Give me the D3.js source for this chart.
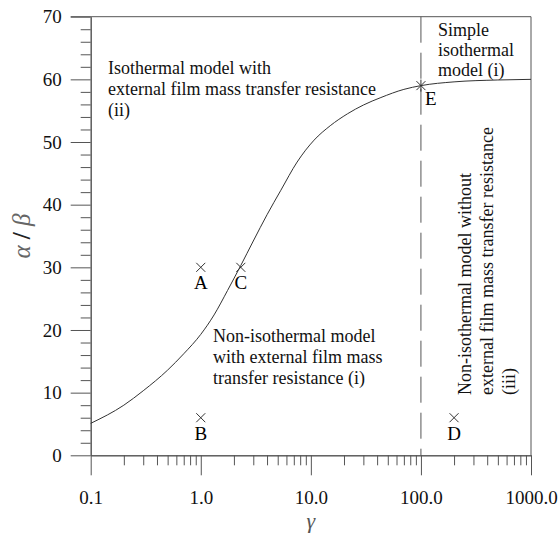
<!DOCTYPE html>
<html>
<head>
<meta charset="utf-8">
<script src="https://cdn.jsdelivr.net/npm/d3@7"></script>
<style>
  html, body { margin: 0; padding: 0; background: #fff; }
  svg { display: block; }
  text { font-family: "Liberation Serif", "Times New Roman", serif; }
</style>
</head>
<body>
<svg id="chart" width="560" height="533"></svg>
<script>
// ---- data ----
const curveGamma = [0.1, 0.2, 0.3, 0.5, 0.7, 1.0, 1.32, 1.75, 2.31, 3.0, 4.0, 5.34, 7.5, 10.7, 15, 21.5, 30, 43.3, 70, 100, 200, 500, 1000];
const curveRatio = [5.1, 8.0, 10.3, 13.6, 16.2, 19.3, 22.4, 26.3, 30.3, 34.2, 38.4, 42.3, 46.8, 50.3, 52.6, 54.5, 55.9, 57.1, 58.4, 59.0, 59.6, 59.9, 60.0];
const pointNames = ["A", "B", "C", "D", "E"];
const pointGamma = [1, 1, 2.31, 200, 100];
const pointRatio = [30, 6, 30, 6, 59];
const boundaryGamma = 100;
const xMajorTicks = [0.1, 1, 10, 100, 1000];
const xTickLabels = ["0.1", "1.0", "10.0", "100.0", "1000.0"];
const yMajorTicks = [0, 10, 20, 30, 40, 50, 60, 70];
const regionIsoFilm = ["Isothermal model with", "external film mass transfer resistance", "(ii)"];
const regionSimple = ["Simple", "isothermal", "model (i)"];
const regionNonIsoFilm = ["Non-isothermal model", "with external film mass", "transfer resistance (i)"];
const regionNonIsoNoFilm = ["Non-isothermal model without", "external film mass transfer resistance", "(iii)"];

// ---- layout ----
const svg = d3.select("#chart");
const pL = 90.7, pR = 531, pT = 16.7, pB = 455.3;
const x = d3.scaleLog().domain([0.1, 1000]).range([pL, pR]);
const y = d3.scaleLinear().domain([0, 70]).range([pB, pT]);
const axisColor = "#555";
const fs = 18;

// minor ticks
const xMinor = [];
[0.1, 1, 10, 100].forEach(d => { for (let k = 2; k <= 9; k++) xMinor.push(d * k); });
const yMinor = d3.range(0, 71, 2).filter(v => v % 10 !== 0);

// y axis
const yAxisG = svg.append("g").attr("transform", `translate(${pL},0)`);
yAxisG.call(d3.axisLeft(y).tickValues(yMajorTicks).tickSize(20).tickSizeOuter(0).tickPadding(9).tickFormat(d3.format("d")));
yAxisG.append("g").call(d3.axisLeft(y).tickValues(yMinor).tickSize(10).tickSizeOuter(0).tickFormat(""));
// x axis
const xAxisG = svg.append("g").attr("transform", `translate(0,${pB})`);
xAxisG.call(d3.axisBottom(x).tickValues(xMajorTicks).tickSize(20).tickSizeOuter(0).tickPadding(15)
  .tickFormat((d, i) => xTickLabels[i]));
xAxisG.append("g").call(d3.axisBottom(x).tickValues(xMinor).tickSize(10).tickSizeOuter(0).tickFormat(""));

svg.selectAll(".domain, .tick line").attr("stroke", axisColor).attr("stroke-width", 1);
svg.selectAll(".tick text").attr("font-size", 19).attr("fill", "#111")
  .style("font-family", '"Liberation Serif", serif');

// frame top & right
svg.append("line").attr("x1", pL - 20).attr("x2", pR).attr("y1", pT).attr("y2", pT)
  .attr("stroke", axisColor);
svg.append("line").attr("x1", pR).attr("x2", pR).attr("y1", pT).attr("y2", pB)
  .attr("stroke", axisColor);

// dashed boundary
svg.append("line").attr("x1", x(boundaryGamma)).attr("x2", x(boundaryGamma))
  .attr("y1", pT).attr("y2", pB)
  .attr("stroke", "#555").attr("stroke-dasharray", "26,10");

// curve
const pts = curveGamma.map((g, i) => [g, curveRatio[i]]);
svg.append("path").datum(pts)
  .attr("d", d3.line().x(d => x(d[0])).y(d => y(d[1])).curve(d3.curveMonotoneX))
  .attr("fill", "none").attr("stroke", "#333").attr("stroke-width", 1);

// markers
const ms = 4.5;
pointNames.forEach((n, i) => {
  const px = x(pointGamma[i]), py = y(pointRatio[i]);
  const g = svg.append("g").attr("stroke", "#333").attr("stroke-width", 1);
  g.append("line").attr("x1", px - ms).attr("x2", px + ms).attr("y1", py - ms).attr("y2", py + ms);
  g.append("line").attr("x1", px - ms).attr("x2", px + ms).attr("y1", py + ms).attr("y2", py - ms);
  if (n === "E") {
    g.append("line").attr("x1", px).attr("x2", px).attr("y1", py - 6).attr("y2", py + 6);
    svg.append("text").attr("x", px + 4).attr("y", py + 19).attr("font-size", 19).text(n);
  } else {
    svg.append("text").attr("x", px).attr("y", py + 22).attr("text-anchor", "middle")
      .attr("font-size", 19).text(n);
  }
});

// region labels
function block(lines, x0, y0, lh) {
  const t = svg.append("text").attr("font-size", fs).attr("fill", "#111");
  lines.forEach((s, i) => t.append("tspan").attr("x", x0).attr("y", y0 + i * lh).text(s));
  return t;
}
block(regionIsoFilm, 108, 74, 21);
block(regionSimple, 438, 36, 20);
block(regionNonIsoFilm, 213, 342, 21);
const rot = svg.append("g").attr("transform", "translate(471,395) rotate(-90)");
const rt = rot.append("text").attr("font-size", fs).attr("fill", "#111");
regionNonIsoNoFilm.forEach((s, i) => rt.append("tspan").attr("x", 0).attr("y", i * 22).text(s));

// axis titles
svg.append("text").attr("x", x(10)).attr("y", 528).attr("text-anchor", "middle")
  .attr("font-size", 22).attr("font-style", "italic").attr("fill", "#555").text("γ");
const yl = svg.append("text").attr("transform", "translate(30,236) rotate(-90)")
  .attr("text-anchor", "middle").attr("font-size", 25);
yl.append("tspan").attr("font-style", "italic").attr("fill", "#666").text("α");
yl.append("tspan").attr("font-weight", "bold").attr("fill", "#222").text(" / ");
yl.append("tspan").attr("font-style", "italic").attr("fill", "#666").text("β");
</script>
</body>
</html>
